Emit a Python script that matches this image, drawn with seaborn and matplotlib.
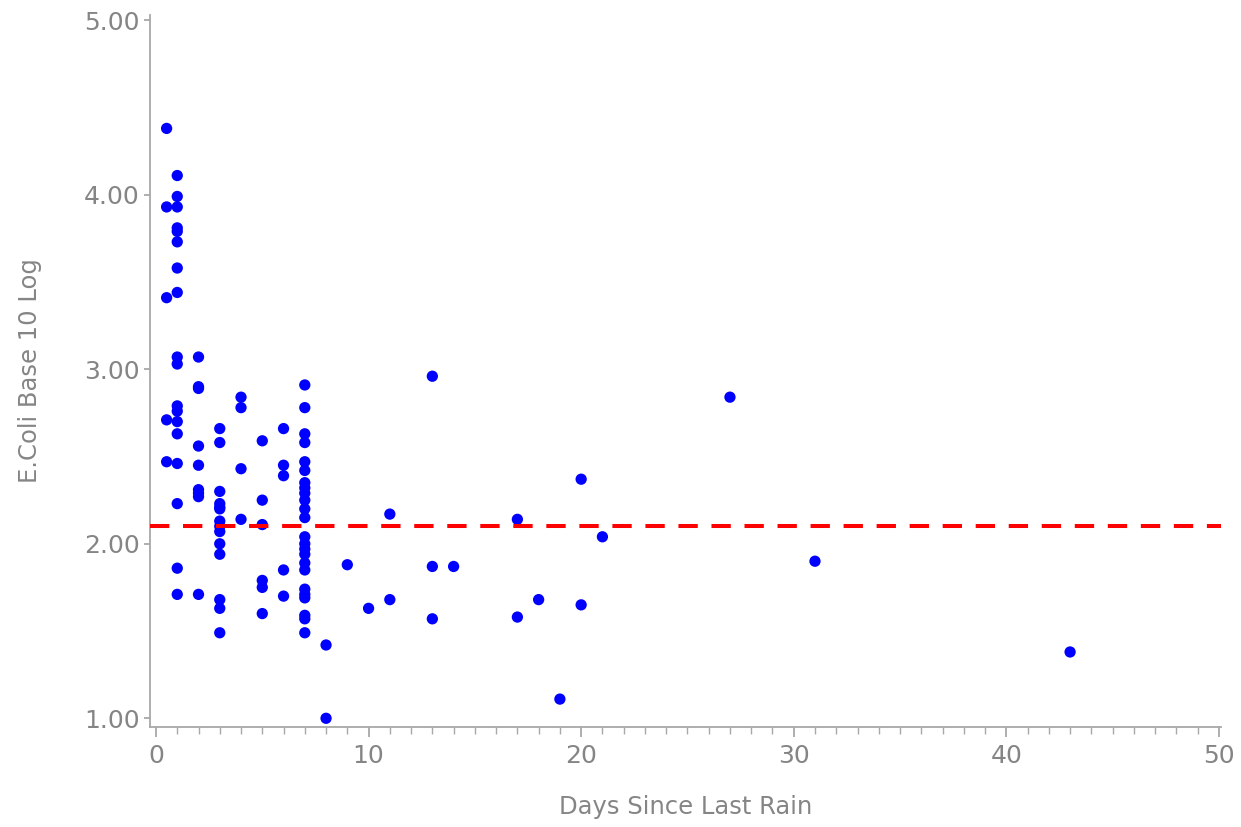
import pandas as pd
import matplotlib
matplotlib.use("Agg")
import matplotlib.pyplot as plt
from matplotlib.ticker import MultipleLocator, FormatStrFormatter
import seaborn as sns

# Days since last rain / log10 E. coli
days = (
    [0.5] * 5
    + [1] * 18
    + [2] * 9
    + [3] * 14
    + [4] * 4
    + [5] * 6
    + [6] * 5
    + [7] * 24
    + [8, 8, 9, 10, 11, 11, 13, 13, 13, 14, 17, 17, 18, 19, 20, 20, 21, 27, 31, 43]
)
ecoli = (
    [4.38, 3.93, 3.41, 2.71, 2.47]
    + [4.11, 3.99, 3.93, 3.81, 3.79, 3.73, 3.58, 3.44, 3.07, 3.03,
       2.79, 2.76, 2.70, 2.63, 2.46, 2.23, 1.86, 1.71]
    + [3.07, 2.90, 2.89, 2.56, 2.45, 2.31, 2.29, 2.27, 1.71]
    + [2.66, 2.58, 2.30, 2.23, 2.21, 2.13, 2.10, 2.07, 2.00, 1.94,
       1.68, 1.63, 1.49, 2.20]
    + [2.84, 2.78, 2.43, 2.14]
    + [2.59, 2.25, 2.11, 1.79, 1.75, 1.60]
    + [2.66, 2.45, 2.39, 1.85, 1.70]
    + [2.91, 2.78, 2.63, 2.58, 2.47, 2.42, 2.35, 2.32, 2.29, 2.25,
       2.20, 2.15, 2.04, 2.00, 1.97, 1.94, 1.89, 1.85, 1.74, 1.71,
       1.69, 1.59, 1.57, 1.49]
    + [1.42, 1.00, 1.88, 1.63, 2.17, 1.68, 2.96, 1.87, 1.57, 1.87,
       2.14, 1.58, 1.68, 1.11, 2.37, 1.65, 2.04, 2.84, 1.90, 1.38]
)
ref_level = 2.1

df = pd.DataFrame({"days": days, "ecoli": ecoli})

sns.set_style("white")
plt.rcParams["font.family"] = ["DejaVu Sans"]

grey = "#858585"
spine = "#a8a8a8"

fig = plt.figure(figsize=(12.41, 8.27), dpi=100)
ax = fig.add_axes([0.1209, 0.1209, 0.863, 0.861])

sns.scatterplot(data=df, x="days", y="ecoli", ax=ax, color="#0000ff",
                s=66, edgecolor="none", zorder=3)
ax.axhline(ref_level, color="#ff0000", lw=2.9, ls=(0, (4.8, 3.4)), zorder=4)

ax.set_xlim(-0.28, 50.1)
ax.set_ylim(0.95, 5.03)
ax.xaxis.set_major_locator(MultipleLocator(10))
ax.xaxis.set_minor_locator(MultipleLocator(1))
ax.yaxis.set_major_locator(MultipleLocator(1))
ax.yaxis.set_major_formatter(FormatStrFormatter("%.2f"))

for side in ["top", "right"]:
    ax.spines[side].set_visible(False)
for side in ["left", "bottom"]:
    ax.spines[side].set_color(spine)
    ax.spines[side].set_linewidth(1.3)

ax.tick_params(axis="x", which="major", direction="out", length=7, width=1.3,
               color=spine, labelcolor=grey, labelsize=18, pad=5, bottom=True)
ax.tick_params(axis="x", which="minor", direction="out", length=5, width=1,
               color=spine, bottom=True)
ax.tick_params(axis="y", which="major", direction="out", length=4.5, width=1.3,
               color=spine, labelcolor=grey, labelsize=18, pad=3, left=True)

ax.set_xlabel("Days Since Last Rain", fontsize=17.5, color=grey, labelpad=20)
ax.set_ylabel("E.Coli Base 10 Log", fontsize=17.5, color=grey, labelpad=30)

fig.savefig("out.png", dpi=100)
